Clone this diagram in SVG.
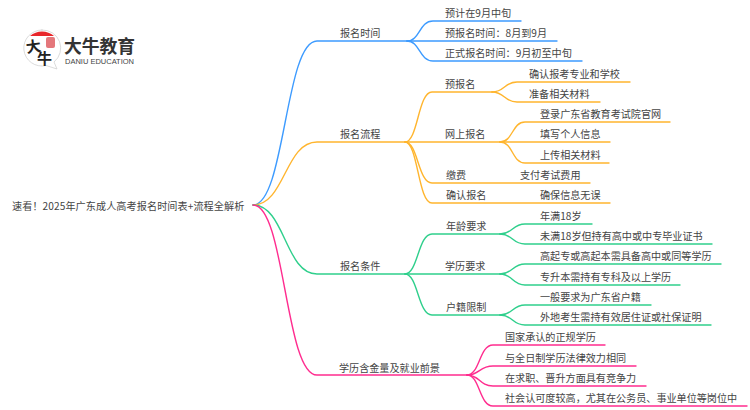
<svg xmlns="http://www.w3.org/2000/svg" width="750" height="410" viewBox="0 0 750 410">
<style>
text{font-family:"Noto Sans CJK SC","Liberation Sans",sans-serif;font-size:10.100px;fill:#444}
path{fill:none;stroke-width:1.400;stroke-linecap:round}
.b{stroke:#3d9bff}.o{stroke:#ffb52e}.g{stroke:#2fcf8c}.p{stroke:#ff2d8f}
</style>
<rect width="750" height="410" fill="#fff"/>
<g id="connectors">
<path class="b" d="M253,205C285,205 285,41 317,41H407"/>
<path class="b" d="M407,41C420,41 419,21 433,21H521"/>
<path class="b" d="M407,41H557"/>
<path class="b" d="M407,41C420,41 419,61 433,61H582"/>
<path class="o" d="M253,205C285,205 285,142 317,142H405"/>
<path class="o" d="M405,142C418,142 418,92 432,92H492"/>
<path class="o" d="M405,142H500"/>
<path class="o" d="M405,142C418,142 418,183 432,183H590"/>
<path class="o" d="M405,142C418,142 418,203 432,203H610"/>
<path class="o" d="M492,92C505,92 504,82 517,82H630"/>
<path class="o" d="M492,92C505,92 504,102 517,102H600"/>
<path class="o" d="M500,142C513,142 512,122 525,122H670"/>
<path class="o" d="M500,142H610"/>
<path class="o" d="M500,142C513,142 512,163 525,163H609"/>
<path class="g" d="M253,205C285,205 285,274 317,274H405"/>
<path class="g" d="M405,274C418,274 418,234 432,234H500"/>
<path class="g" d="M405,274H500"/>
<path class="g" d="M405,274C418,274 418,315 432,315H500"/>
<path class="g" d="M500,234C513,234 512,224 525,224H592"/>
<path class="g" d="M500,234C513,234 512,244 525,244H712"/>
<path class="g" d="M500,274C513,274 512,264 525,264H721"/>
<path class="g" d="M500,274C513,274 512,285 525,285H680"/>
<path class="g" d="M500,315C513,315 512,305 525,305H651"/>
<path class="g" d="M500,315C513,315 512,325 525,325H711"/>
<path class="p" d="M253,205C285,205 285,375 317,375H467"/>
<path class="p" d="M467,375C480,375 479,345 493,345H605"/>
<path class="p" d="M467,375C480,375 479,366 493,366H636"/>
<path class="p" d="M467,375C480,375 479,386 493,386H646"/>
<path class="p" d="M467,375C480,375 479,406 493,406H747"/>
</g>
<g id="logo">
<path d="M42,30a18,18 0 1 0 4,35.500L57,69L54,62A18,18 0 0 0 42,30Z" style="fill:#fff;stroke:#ccc;stroke-width:.7"/>
<path d="M30,36A18,18 0 0 1 54,36Z" style="fill:#e8262a;stroke:none"/>
<rect x="46" y="37" width="9" height="11" rx="2" fill="#e4777b"/>
<text x="26" y="52" style="font-size:15px;font-weight:700;fill:#222" transform="rotate(-8 33 47)">大</text>
<text x="37" y="64" style="font-size:15px;font-weight:700;fill:#222">牛</text>
<text x="64" y="53" style="font-size:17.800px;font-weight:700;fill:#333">大牛教育</text>
<text x="65" y="63.500" style="font-family:'Liberation Sans',sans-serif;font-size:7.500px;fill:#444">DANIU EDUCATION</text>
</g>
<g id="root"><text x="12" y="209.500" letter-spacing=".1">速看！2025年广东成人高考报名时间表+流程全解析</text></g>
<g id="n1"><text x="340" y="36.500">报名时间</text></g>
<g id="n11"><text x="445" y="16.500">预计在9月中旬</text></g>
<g id="n12"><text x="445" y="36.500">预报名时间：8月到9月</text></g>
<g id="n13"><text x="445" y="56.500">正式报名时间：9月初至中旬</text></g>
<g id="n2"><text x="340" y="137.500">报名流程</text></g>
<g id="n21"><text x="445" y="87.500">预报名</text></g>
<g id="n211"><text x="529" y="77.500">确认报考专业和学校</text></g>
<g id="n212"><text x="529" y="97.500">准备相关材料</text></g>
<g id="n22"><text x="445" y="137.500">网上报名</text></g>
<g id="n221"><text x="540" y="117.500">登录广东省教育考试院官网</text></g>
<g id="n222"><text x="540" y="137.500">填写个人信息</text></g>
<g id="n223"><text x="540" y="158.500">上传相关材料</text></g>
<g id="n23"><text x="446" y="178.500">缴费</text></g>
<g id="n231"><text x="520" y="178.500">支付考试费用</text></g>
<g id="n24"><text x="446" y="198.500">确认报名</text></g>
<g id="n241"><text x="540" y="198.500">确保信息无误</text></g>
<g id="n3"><text x="340" y="269.500">报名条件</text></g>
<g id="n31"><text x="446" y="229.500">年龄要求</text></g>
<g id="n311"><text x="540" y="219.500">年满18岁</text></g>
<g id="n312"><text x="540" y="239.500">未满18岁但持有高中或中专毕业证书</text></g>
<g id="n32"><text x="445" y="269.500">学历要求</text></g>
<g id="n321"><text x="540" y="259.500">高起专或高起本需具备高中或同等学历</text></g>
<g id="n322"><text x="540" y="280.500">专升本需持有专科及以上学历</text></g>
<g id="n33"><text x="446" y="310.500">户籍限制</text></g>
<g id="n331"><text x="540" y="300.500">一般要求为广东省户籍</text></g>
<g id="n332"><text x="540" y="320.500">外地考生需持有效居住证或社保证明</text></g>
<g id="n4"><text x="339" y="371.500">学历含金量及就业前景</text></g>
<g id="n41"><text x="505" y="340.500">国家承认的正规学历</text></g>
<g id="n42"><text x="505" y="361.500">与全日制学历法律效力相同</text></g>
<g id="n43"><text x="505" y="381.500">在求职、晋升方面具有竞争力</text></g>
<g id="n44"><text x="505" y="401.500">社会认可度较高，尤其在公务员、事业单位等岗位中</text></g>
</svg>
